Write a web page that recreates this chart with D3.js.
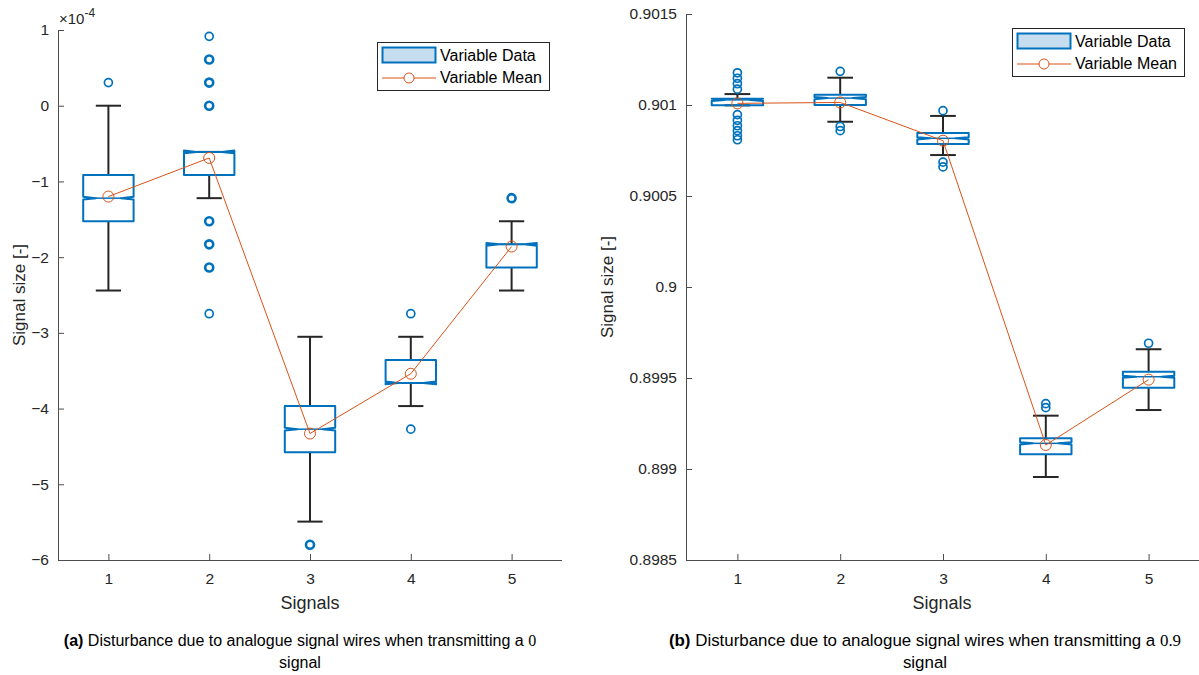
<!DOCTYPE html>
<html>
<head>
<meta charset="utf-8">
<script src="https://cdn.jsdelivr.net/npm/d3@7"></script>
<style>
body { margin: 0; background: #fff; }
svg { font-family: "Liberation Sans", Arial, sans-serif; }
</style>
</head>
<body>
<svg id="chart" width="1199" height="675"></svg>
<script>
// ---------- DATA ----------
const categories = [1, 2, 3, 4, 5];

// Panel (a): values in units of 1e-4
const aLowerWhisker = [-2.441, -1.221, -5.493, -3.967, -2.441];
const aQ1           = [-1.526, -0.916, -4.578, -3.662, -2.136];
const aMedian       = [-1.221, -0.610, -4.272, -3.662, -1.831];
const aQ3           = [-0.916, -0.610, -3.967, -3.357, -1.831];
const aUpperWhisker = [ 0.000, -0.610, -3.052, -3.052, -1.526];
const aOutliers     = [[0.305], [0.916, 0.610, 0.610, 0.305, 0.305, 0.000, 0.000, -1.526, -1.526, -1.831, -1.831, -2.136, -2.136, -2.747], [-5.798, -5.798], [-2.747, -4.272], [-1.221, -1.221]];
const aMean         = [-1.20, -0.69, -4.33, -3.54, -1.86];
const aNotch        = [0.018, 0.018, 0.018, 0.018, 0.018];
const aYTicks       = [1, 0, -1, -2, -3, -4, -5, -6];

// Panel (b)
const bLowerWhisker = [0.900998, 0.900908, 0.900725, 0.898956, 0.899324];
const bQ1           = [0.900998, 0.901000, 0.900786, 0.899081, 0.899447];
const bMedian       = [0.901028, 0.901038, 0.900817, 0.899141, 0.899507];
const bQ3           = [0.901035, 0.901057, 0.900846, 0.899169, 0.899535];
const bUpperWhisker = [0.901060, 0.901150, 0.900940, 0.899293, 0.899658];
const bOutliers     = [[0.901177, 0.901147, 0.901117, 0.901087, 0.900947, 0.900916, 0.900886, 0.900859, 0.900831, 0.900809],
                       [0.901185, 0.900882, 0.900859],
                       [0.900969, 0.900686, 0.900660],
                       [0.899359, 0.899337],
                       [0.899691]];
const bMean         = [0.901009, 0.901014, 0.900804, 0.899132, 0.899491];
const bNotch        = [0.000006, 0.000006, 0.000006, 0.000006, 0.000006];
const bYTicks       = [0.9015, 0.901, 0.9005, 0.9, 0.8995, 0.899, 0.8985];
const bYTickLabels  = ["0.9015", "0.901", "0.9005", "0.9", "0.8995", "0.899", "0.8985"];

const legendLabels = ["Variable Data", "Variable Mean"];
const xLabel = "Signals";
const yLabel = "Signal size [-]";

// ---------- DRAW ----------
const svg = d3.select("#chart");
const BLUE = "#0072BD", ORANGE = "#D95319", AXIS = "#4d4d4d", TXT = "#262626";

function panel(cfg) {
  const g = svg.append("g");
  const x = d3.scaleLinear().domain([0.5, 5.5]).range([cfg.left, cfg.right]);
  const y = d3.scaleLinear().domain(cfg.yDomain).range([cfg.bottom, cfg.top]);

  // axes (ticks inward)
  const yAxis = d3.axisLeft(y).tickValues(cfg.yTicks).tickSize(-6).tickPadding(9)
    .tickFormat((d, i) => cfg.yTickLabels ? cfg.yTickLabels[i] : d3.format("d")(d));
  const ga = g.append("g").attr("transform", `translate(${cfg.left},0)`).call(yAxis);
  const xAxis = d3.axisBottom(x).tickValues(categories).tickSize(-6).tickPadding(10).tickFormat(d3.format("d"));
  const gb = g.append("g").attr("transform", `translate(0,${cfg.bottom})`).call(xAxis);
  [ga, gb].forEach(a => {
    a.select(".domain").attr("stroke", AXIS).attr("stroke-width", 1);
    a.selectAll(".tick line").attr("stroke", AXIS);
    a.selectAll(".tick text").attr("fill", TXT).style("font-size", "15.5px")
      .style("font-family", "Liberation Sans, Arial, sans-serif");
  });
  ga.select(".domain").attr("d", `M0.5,${cfg.bottom}V${cfg.top}`);
  gb.select(".domain").attr("d", `M${cfg.left},0.5H${cfg.right}`);
  gb.selectAll(".tick text").attr("dy", "0.9em");

  const hw = 0.25, cw = 0.125;
  categories.forEach((c, i) => {
    const xc = x(c);
    const dx = x(c + hw) - xc, dc = x(c + cw) - xc;
    // whiskers
    const wg = g.append("g").attr("stroke", "#262626").attr("stroke-width", 2);
    wg.append("line").attr("x1", xc).attr("x2", xc).attr("y1", y(cfg.q3[i])).attr("y2", y(cfg.uw[i]));
    wg.append("line").attr("x1", xc).attr("x2", xc).attr("y1", y(cfg.q1[i])).attr("y2", y(cfg.lw[i]));
    wg.append("line").attr("x1", xc - dc).attr("x2", xc + dc).attr("y1", y(cfg.uw[i])).attr("y2", y(cfg.uw[i]));
    wg.append("line").attr("x1", xc - dc).attr("x2", xc + dc).attr("y1", y(cfg.lw[i])).attr("y2", y(cfg.lw[i]));
    // notched box
    const m = cfg.med[i], n = cfg.notch[i];
    const pts = [
      [xc - dx, y(cfg.q1[i])], [xc - dx, y(m - n)], [xc - dx / 2, y(m)], [xc - dx, y(m + n)], [xc - dx, y(cfg.q3[i])],
      [xc + dx, y(cfg.q3[i])], [xc + dx, y(m + n)], [xc + dx / 2, y(m)], [xc + dx, y(m - n)], [xc + dx, y(cfg.q1[i])]
    ];
    g.append("path").attr("d", d3.line()(pts) + "Z")
      .attr("fill", "none").attr("stroke", BLUE).attr("stroke-width", 2).attr("stroke-linejoin", "round");
    g.append("line").attr("x1", xc - dx / 2).attr("x2", xc + dx / 2).attr("y1", y(m)).attr("y2", y(m))
      .attr("stroke", BLUE).attr("stroke-width", 1.5);
    // outliers (repeated values drawn again, which makes them look bolder)
    const counts = d3.rollup(cfg.outliers[i], v => v.length, d => d);
    g.selectAll(null).data(Array.from(counts)).join("circle")
      .attr("cx", xc).attr("cy", d => y(d[0])).attr("r", 4)
      .attr("fill", "none").attr("stroke", BLUE).attr("stroke-width", d => d[1] > 1 ? 2.6 : 1.7);
  });

  // mean line
  const line = d3.line().x((d, i) => x(categories[i])).y(d => y(d));
  g.append("path").attr("d", line(cfg.mean)).attr("fill", "none").attr("stroke", ORANGE).attr("stroke-width", 1);
  g.selectAll(null).data(cfg.mean).join("circle")
    .attr("cx", (d, i) => x(categories[i])).attr("cy", d => y(d)).attr("r", 5.5)
    .attr("fill", "none").attr("stroke", ORANGE).attr("stroke-width", 1);

  // axis labels
  g.append("text").attr("x", (cfg.left + cfg.right) / 2 + cfg.xLabelShift).attr("y", cfg.bottom + 49)
    .attr("text-anchor", "middle").attr("fill", TXT).style("font-size", "18px").text(xLabel);
  g.append("text").attr("transform", `translate(${cfg.yLabelX},${(cfg.top + cfg.bottom) / 2}) rotate(-90)`)
    .attr("text-anchor", "middle").attr("fill", TXT).style("font-size", "17px").text(yLabel);

  // legend
  const L = g.append("g").attr("transform", `translate(${cfg.legendX},${cfg.legendY})`);
  L.append("rect").attr("x", 0.5).attr("y", 0.5).attr("width", 172).attr("height", 48)
    .attr("fill", "#fff").attr("stroke", "#262626").attr("stroke-width", 1);
  L.append("rect").attr("x", 5.5).attr("y", 5.5).attr("width", 53).attr("height", 15)
    .attr("fill", "#c6dcef").attr("stroke", BLUE).attr("stroke-width", 2);
  L.append("line").attr("x1", 5).attr("x2", 59).attr("y1", 36).attr("y2", 36).attr("stroke", ORANGE).attr("stroke-width", 1);
  L.append("circle").attr("cx", 32).attr("cy", 36).attr("r", 5).attr("fill", "#fff").attr("stroke", ORANGE).attr("stroke-width", 1);
  L.selectAll(null).data(legendLabels).join("text")
    .attr("x", 63).attr("y", (d, i) => 19 + i * 21.5).attr("fill", "#000").style("font-size", "16px").text(d => d);

  // caption
  const cap = g.append("text").attr("x", cfg.capX).attr("y", 646).attr("text-anchor", "middle")
    .attr("fill", "#000").style("font-size", cfg.capSize + "px");
  cap.append("tspan").style("font-weight", "bold").text(cfg.capTag);
  cap.append("tspan").text(" Disturbance due to analogue signal wires when transmitting a ");
  cap.append("tspan").style("font-family", "Liberation Serif, Times New Roman, serif").text(cfg.capVal);
  g.append("text").attr("x", cfg.capX).attr("y", 668).attr("text-anchor", "middle")
    .attr("fill", "#000").style("font-size", cfg.capSize + "px").text("signal");
  return { x, y };
}

panel({
  left: 58, right: 562, top: 30, bottom: 560, yDomain: [-6, 1], yTicks: aYTicks,
  lw: aLowerWhisker, q1: aQ1, med: aMedian, q3: aQ3, uw: aUpperWhisker, outliers: aOutliers, mean: aMean, notch: aNotch,
  legendX: 377, legendY: 42, yLabelX: 25, xLabelShift: 0, capX: 300, capSize: 16, capTag: "(a)", capVal: "0"
});
panel({
  left: 686, right: 1200, top: 14, bottom: 560, yDomain: [0.8985, 0.9015], yTicks: bYTicks, yTickLabels: bYTickLabels,
  lw: bLowerWhisker, q1: bQ1, med: bMedian, q3: bQ3, uw: bUpperWhisker, outliers: bOutliers, mean: bMean, notch: bNotch,
  legendX: 1012, legendY: 28, yLabelX: 613, xLabelShift: -1, capX: 925, capSize: 16.9, capTag: "(b)", capVal: "0.9"
});

// exponent label for panel (a)
const ex = svg.append("text").attr("x", 59).attr("y", 24).attr("fill", TXT).style("font-size", "15px");
ex.append("tspan").text("\u00d710");
ex.append("tspan").attr("dy", -7).style("font-size", "12px").text("-4");
</script>
</body>
</html>
